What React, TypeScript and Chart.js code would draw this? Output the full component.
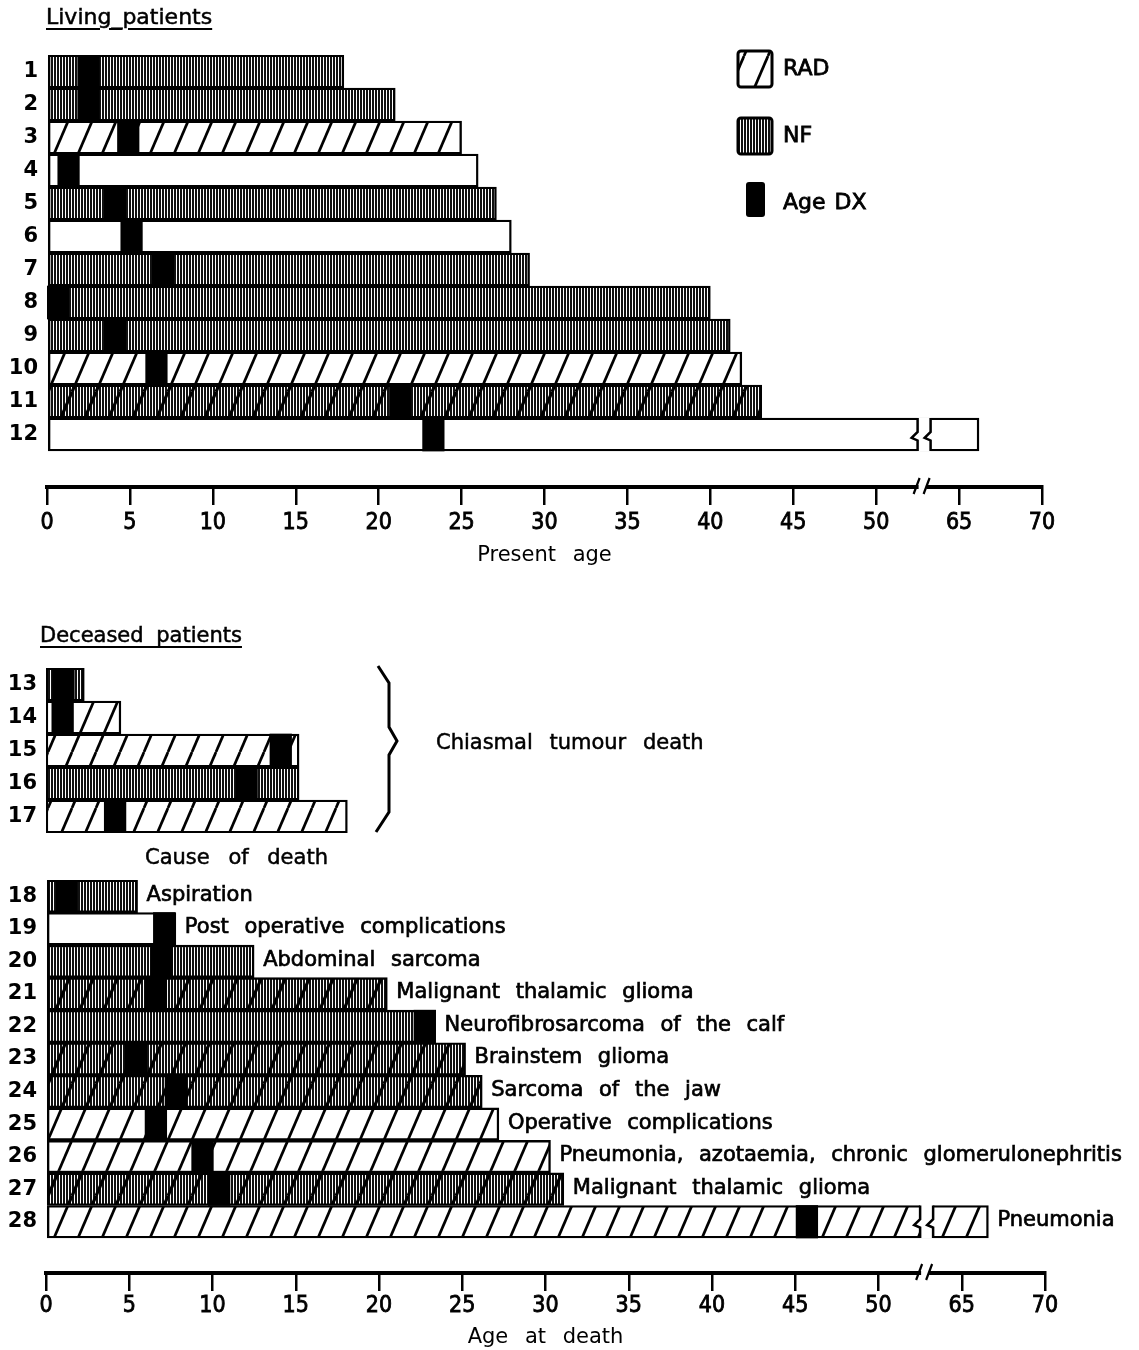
import React, { useEffect, useRef } from 'react';
import { Chart, registerables } from 'chart.js';

Chart.register(...registerables);

const FONT = "'DejaVu Sans', 'Liberation Sans', Arial, sans-serif";
const NUM_FONT = "'Liberation Sans Narrow', 'DejaVu Sans Condensed', 'DejaVu Sans', sans-serif";

// ---------------- data ----------------
const livingPatients = [1, 2, 3, 4, 5, 6, 7, 8, 9, 10, 11, 12];
const livingPresentAge = [17.9, 21.0, 25.0, 26.0, 27.1, 28.0, 29.1, 40.0, 41.2, 41.9, 43.1, 66.2];
const livingAgeDx = [2.5, 2.5, 4.9, 1.3, 4.1, 5.1, 7.0, 0.66, 4.1, 6.6, 21.3, 23.3];
const livingTreatment = ['NF', 'NF', 'RAD', 'NONE', 'NF', 'NONE', 'NF', 'NF', 'NF', 'RAD', 'RAD+NF', 'NONE'];

const chiasmalPatients = [13, 14, 15, 16, 17];
const chiasmalAgeAtDeath = [2.3, 4.5, 15.2, 15.2, 18.1];
const chiasmalAgeDx = [1.05, 1.0, 14.1, 12.05, 4.15];
const chiasmalTreatment = ['NF', 'RAD', 'RAD', 'NF', 'RAD'];

const otherPatients = [18, 19, 20, 21, 22, 23, 24, 25, 26, 27, 28];
const otherAgeAtDeath = [5.5, 7.8, 12.5, 20.5, 23.4, 25.2, 26.2, 27.2, 30.3, 31.1, 66.6];
const otherAgeDx = [1.25, 7.1, 6.95, 6.6, 22.75, 5.4, 7.8, 6.6, 9.4, 10.4, 45.7];
const otherTreatment = ['NF', 'NONE', 'NF', 'RAD+NF', 'NF', 'RAD+NF', 'RAD+NF', 'RAD', 'RAD', 'RAD+NF', 'RAD'];
const otherCause = [
  'Aspiration',
  'Post operative complications',
  'Abdominal sarcoma',
  'Malignant thalamic glioma',
  'Neurofibrosarcoma of the calf',
  'Brainstem glioma',
  'Sarcoma of the jaw',
  'Operative complications',
  'Pneumonia, azotaemia, chronic glomerulonephritis',
  'Malignant thalamic glioma',
  'Pneumonia',
];

const axisTickAges = [0, 5, 10, 15, 20, 25, 30, 35, 40, 45, 50, 65, 70];
const legendLabels = ['RAD', 'NF', 'Age DX'];

// ---------------- broken axis ----------------
const BREAK_FROM = 52.5;
const BREAK_TO = 62.5;
const BREAK_SHIFT = BREAK_TO - BREAK_FROM;
const toAxis = (age: number) => (age >= BREAK_TO ? age - BREAK_SHIFT : age);
const fromAxis = (v: number) => (v > BREAK_FROM ? v + BREAK_SHIFT : v);
const AXIS_MAX = toAxis(70);
const BREAK_MARK = toAxis(62.8);
const DX_HALF = 0.65;

function makePatterns() {
  const W = 24;
  const H = 56;
  const make = (nf: boolean, rad: boolean) => {
    const c = document.createElement('canvas');
    c.width = W;
    c.height = H;
    const g = c.getContext('2d') as CanvasRenderingContext2D;
    g.fillStyle = '#fff';
    g.fillRect(0, 0, W, H);
    if (nf) {
      g.fillStyle = '#111';
      for (let x = 0; x < W; x += 3) g.fillRect(x, 0, 2, H);
    }
    if (rad) {
      g.strokeStyle = '#000';
      g.lineWidth = nf ? 3.2 : 2.7;
      for (const x0 of [-W, 0, W]) {
        g.beginPath();
        g.moveTo(x0, H);
        g.lineTo(x0 + W, 0);
        g.stroke();
      }
    }
    return g.createPattern(c, 'repeat') as CanvasPattern;
  };
  return {
    NONE: '#ffffff' as any,
    NF: make(true, false),
    RAD: make(false, true),
    'RAD+NF': make(true, true),
  } as Record<string, any>;
}

function zigPoints(x: number, y0: number, y1: number) {
  const h = y1 - y0;
  return [
    [x, y0],
    [x, y0 + 0.42 * h],
    [x - 6, y0 + 0.6 * h],
    [x, y0 + 0.68 * h],
    [x, y1],
  ];
}

const breakPlugin = {
  id: 'brokenAxis',
  beforeDraw(chart: any) {
    (chart.ctx as any).wordSpacing = '10px';
  },
  afterDatasetsDraw(chart: any) {
    const ctx = chart.ctx;
    const xs = chart.scales.x;
    const cx = xs.getPixelForValue(BREAK_MARK);
    const meta = chart.getDatasetMeta(1);
    meta.data.forEach((el: any) => {
      const p = el.getProps(['x', 'y', 'height'], true);
      if (p.x <= cx + 8) return;
      const y0 = p.y - p.height / 2;
      const y1 = p.y + p.height / 2;
      const left = zigPoints(cx - 5, y0, y1);
      const right = zigPoints(cx + 8, y0, y1);
      ctx.save();
      ctx.fillStyle = '#fff';
      ctx.beginPath();
      ctx.moveTo(left[0][0], y0 - 0.5);
      left.forEach((q) => ctx.lineTo(q[0], q[1]));
      ctx.lineTo(left[4][0], y1 + 0.5);
      ctx.lineTo(right[4][0], y1 + 0.5);
      for (let i = right.length - 1; i >= 0; i--) ctx.lineTo(right[i][0], right[i][1]);
      ctx.lineTo(right[0][0], y0 - 0.5);
      ctx.closePath();
      ctx.fill();
      ctx.strokeStyle = '#000';
      ctx.lineWidth = 2.5;
      ctx.lineJoin = 'miter';
      for (const edge of [left, right]) {
        ctx.beginPath();
        edge.forEach((q, i) => (i ? ctx.lineTo(q[0], q[1]) : ctx.moveTo(q[0], q[1])));
        ctx.stroke();
      }
      ctx.restore();
    });
  },
  afterDraw(chart: any) {
    const xs = chart.scales.x;
    if (!xs.options.display) return;
    const ctx = chart.ctx;
    const cx = xs.getPixelForValue(BREAK_MARK);
    const y = chart.chartArea.bottom;
    ctx.save();
    ctx.fillStyle = '#fff';
    ctx.fillRect(cx - 4, y - 4, 8, 8);
    ctx.strokeStyle = '#000';
    ctx.lineWidth = 2.2;
    ctx.beginPath();
    ctx.moveTo(cx - 9, y + 7);
    ctx.lineTo(cx - 3, y - 9);
    ctx.moveTo(cx + 1, y + 7);
    ctx.lineTo(cx + 7, y - 9);
    ctx.stroke();
    ctx.restore();
  },
};

function causePlugin(causes: string[]) {
  return {
    id: 'causeLabels',
    afterDatasetsDraw(chart: any) {
      const ctx = chart.ctx;
      const meta = chart.getDatasetMeta(1);
      ctx.save();
      ctx.font = `21px ${FONT}`;
      (ctx as any).wordSpacing = '9px';
      ctx.fillStyle = '#000';
      ctx.strokeStyle = '#000';
      ctx.lineWidth = 0.7;
      ctx.textAlign = 'left';
      ctx.textBaseline = 'middle';
      meta.data.forEach((el: any, i: number) => {
        const p = el.getProps(['x', 'y'], true);
        ctx.fillText(causes[i], p.x + 9, p.y - 1);
        ctx.strokeText(causes[i], p.x + 9, p.y - 1);
      });
      ctx.restore();
    },
  };
}

function legendPlugin(pats: Record<string, any>) {
  return {
    id: 'customLegend',
    afterDraw(chart: any) {
      const ctx = chart.ctx;
      ctx.save();
      const box = (x: number, y: number, w: number, h: number, fill: any, stroke: boolean) => {
        ctx.beginPath();
        if ((ctx as any).roundRect) (ctx as any).roundRect(x, y, w, h, 3);
        else ctx.rect(x, y, w, h);
        ctx.fillStyle = fill;
        ctx.fill();
        if (stroke) {
          ctx.lineWidth = 3;
          ctx.strokeStyle = '#000';
          ctx.stroke();
        }
      };
      box(738, 51, 34, 36, pats.RAD, true);
      box(738, 118, 34, 36, pats.NF, true);
      box(746, 182, 19, 35, '#000', false);
      ctx.font = `22px ${FONT}`;
      (ctx as any).wordSpacing = '2px';
      ctx.fillStyle = '#000';
      ctx.strokeStyle = '#000';
      ctx.lineWidth = 0.8;
      ctx.textAlign = 'left';
      ctx.textBaseline = 'middle';
      const ys = [69, 136, 203];
      legendLabels.forEach((t, i) => {
        ctx.fillText(t, 783, ys[i]);
        ctx.strokeText(t, 783, ys[i]);
      });
      ctx.restore();
    },
  };
}

function panelConfig(o: any): any {
  const pats = o.patterns;
  return {
    type: 'bar',
    data: {
      datasets: [
        {
          label: 'Age DX',
          data: o.patients.map((p: number, i: number) => ({
            x: [toAxis(o.dx[i] - DX_HALF), toAxis(o.dx[i] + DX_HALF)],
            y: p,
          })),
          backgroundColor: '#000',
          borderWidth: 0,
          grouped: false,
          barPercentage: 1,
          categoryPercentage: 1,
        },
        {
          label: o.valueLabel,
          data: o.patients.map((p: number, i: number) => ({ x: [0, toAxis(o.ends[i])], y: p })),
          backgroundColor: o.treatment.map((t: string) => pats[t]),
          borderColor: '#000',
          borderWidth: 2.4,
          borderSkipped: false,
          grouped: false,
          barPercentage: 1,
          categoryPercentage: 1,
        },
      ],
    },
    options: {
      indexAxis: 'y',
      animation: false,
      responsive: false,
      events: [],
      layout: { padding: o.padding },
      plugins: { legend: { display: false }, tooltip: { enabled: false } },
      scales: {
        x: {
          type: 'linear',
          display: o.showX,
          offset: false,
          min: 0,
          max: AXIS_MAX,
          afterBuildTicks: (s: any) => {
            s.ticks = axisTickAges.map((a) => ({ value: toAxis(a) }));
          },
          afterFit: (s: any) => {
            if (o.showX) s.height = o.xHeight;
          },
          ticks: {
            callback: (v: any) => String(fromAxis(Number(v))),
            font: { family: NUM_FONT, size: 23 },
            color: '#000',
            textStrokeColor: '#000',
            textStrokeWidth: 0.8,
            padding: o.tickPad,
            maxRotation: 0,
            autoSkip: false,
          },
          grid: { drawOnChartArea: false, drawTicks: true, tickLength: 18, lineWidth: 2.5, color: '#000' },
          border: { display: true, width: 4, color: '#000' },
          title: {
            display: !!o.xTitle,
            text: o.xTitle || '',
            font: { family: FONT, size: 21 },
            color: '#000',
            padding: { top: 0, bottom: 0 },
          },
        },
        y: {
          type: 'linear',
          reverse: true,
          offset: false,
          min: o.yMin,
          max: o.yMax,
          afterBuildTicks: (s: any) => {
            s.ticks = o.patients.map((p: number) => ({ value: p }));
          },
          afterFit: (s: any) => {
            s.width = o.yWidth;
            s.paddingTop = 0;
            s.paddingBottom = 0;
          },
          ticks: {
            callback: (v: any) => String(v),
            font: { family: FONT, size: 21, weight: 'bold' },
            color: '#000',
            padding: 9,
            autoSkip: false,
          },
          grid: { display: false, drawTicks: false, offset: false },
          border: { display: false },
        },
      },
    },
    plugins: [breakPlugin, ...(o.extra || [])],
  };
}

export default function App() {
  const aRef = useRef<HTMLCanvasElement | null>(null);
  const bRef = useRef<HTMLCanvasElement | null>(null);
  const cRef = useRef<HTMLCanvasElement | null>(null);

  useEffect(() => {
    document.body.style.margin = '0';
    Chart.defaults.font.family = FONT;
    Chart.defaults.color = '#000';
    const patterns = makePatterns();

    const a = new Chart(
      aRef.current as HTMLCanvasElement,
      panelConfig({
        patterns,
        patients: livingPatients,
        ends: livingPresentAge,
        dx: livingAgeDx,
        treatment: livingTreatment,
        valueLabel: 'Present age',
        yMin: 0.5,
        yMax: 13.59,
        yWidth: 47,
        padding: { top: 55, right: 97, bottom: 2, left: 0 },
        showX: true,
        xHeight: 81,
        tickPad: 4,
        xTitle: 'Present age',
        extra: [legendPlugin(patterns)],
      })
    );
    const b = new Chart(
      bRef.current as HTMLCanvasElement,
      panelConfig({
        patterns,
        patients: chiasmalPatients,
        ends: chiasmalAgeAtDeath,
        dx: chiasmalAgeDx,
        treatment: chiasmalTreatment,
        valueLabel: 'Age at death',
        yMin: 12.5,
        yMax: 17.5,
        yWidth: 46,
        padding: { top: 28, right: 94, bottom: 7, left: 0 },
        showX: false,
        xHeight: 0,
        tickPad: 3,
      })
    );
    const c = new Chart(
      cRef.current as HTMLCanvasElement,
      panelConfig({
        patterns,
        patients: otherPatients,
        ends: otherAgeAtDeath,
        dx: otherAgeDx,
        treatment: otherTreatment,
        valueLabel: 'Age at death',
        yMin: 17.5,
        yMax: 29.575,
        yWidth: 46,
        padding: { top: 20, right: 94, bottom: 0, left: 0 },
        showX: true,
        xHeight: 77,
        tickPad: 1,
        xTitle: 'Age at death',
        extra: [causePlugin(otherCause)],
      })
    );
    return () => {
      a.destroy();
      b.destroy();
      c.destroy();
    };
  }, []);

  const text: React.CSSProperties = {
    position: 'absolute',
    fontFamily: FONT,
    color: '#000',
    whiteSpace: 'nowrap',
    WebkitTextStroke: '0.5px #000',
  };
  const title: React.CSSProperties = {
    ...text,
    lineHeight: '26px',
    textDecoration: 'underline',
    textUnderlineOffset: '4px',
    textDecorationThickness: '2px',
  };

  return (
    <div style={{ position: 'relative', width: 1139, height: 1350, background: '#fff', overflow: 'hidden' }}>
      <canvas ref={aRef} width={1139} height={570} style={{ position: 'absolute', left: 0, top: 0 }} />
      <canvas ref={bRef} width={1139} height={200} style={{ position: 'absolute', left: 0, top: 640 }} />
      <canvas ref={cRef} width={1139} height={490} style={{ position: 'absolute', left: 0, top: 860 }} />
      <div style={{ ...title, left: 46, top: 4, fontSize: 22 }}>Living_patients</div>
      <div style={{ ...title, left: 40, top: 622, fontSize: 21, wordSpacing: 6 }}>Deceased patients</div>
      <svg width={1139} height={1350} style={{ position: 'absolute', left: 0, top: 0, pointerEvents: 'none' }}>
        <polyline
          points="378,666 389,683 389,727 397,741 389,755 389,812 376,832"
          fill="none"
          stroke="#000"
          strokeWidth={3}
        />
      </svg>
      <div style={{ ...text, left: 436, top: 729, fontSize: 21, lineHeight: '26px', wordSpacing: 10 }}>
        Chiasmal tumour death
      </div>
      <div style={{ ...text, left: 145, top: 844, fontSize: 21, lineHeight: '26px', wordSpacing: 12 }}>
        Cause of death
      </div>
    </div>
  );
}
